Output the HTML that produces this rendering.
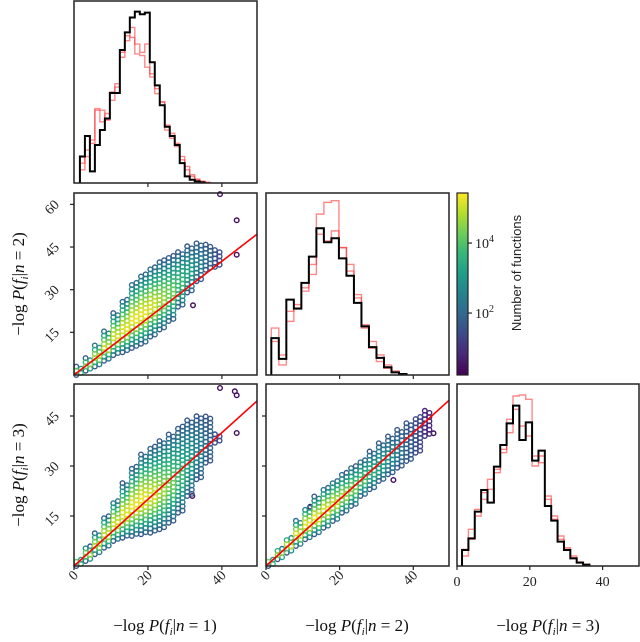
<!DOCTYPE html>
<html><head><meta charset="utf-8"><style>
html,body{margin:0;padding:0;background:#fff;}
svg{display:block;}
.tk{font-family:"Liberation Serif",serif;font-size:14px;fill:#222;}
.ttl{font-family:"Liberation Serif",serif;font-size:17px;fill:#111;}
</style></head><body>
<svg id="chart" width="640" height="642" viewBox="0 0 640 642" xmlns="http://www.w3.org/2000/svg"></svg>
<script>
// ---------- DATA ----------
const h1Start = 1.6, h1Width = 1.35;
const h1Black = [80,142,35,115,160,195,272,272,402,455,500,518,510,515,365,295,235,170,142,115,60,20,10,5,2];
const h1RedA  = [60,100,130,225,220,190,250,290,380,430,470,420,395,420,330,285,245,175,150,110,80,40,20,10,5,2];
const h1RedB  = [40,80,120,220,185,210,275,300,395,445,440,390,385,350,320,270,245,160,135,120,70,50,25,12,5,2];
const h2Start = 1.44, h2Width = 2.04;
const h2Black = [110,48,225,198,275,353,438,396,408,348,296,215,145,83,51,23,8,3];
const h2RedA  = [140,60,190,210,260,330,480,515,520,380,330,240,150,100,60,30,12,4];
const h2RedB  = [100,30,160,200,250,300,420,400,430,380,310,230,140,80,40,20,8,3];
const h3Start = 1.38, h3Width = 1.75;
const h3Black = [48,83,163,228,190,298,363,428,481,378,431,316,346,180,136,73,48,23,10,4];
const h3RedA  = [30,110,150,200,230,280,340,440,510,513,500,300,330,200,150,90,55,30,12,5];
const h3RedB  = [50,80,170,220,260,290,350,400,470,420,390,330,310,210,140,80,50,25,10,4];
const s12X    = [1.25,3.75,6.25,8.75,11.25,13.75,16.25,18.75,21.25,23.75,26.25,28.75,31.25,33.75,36.25,38.75];
const s12Lo   = [0,1.5,3,5,7,8,9.5,11,13.5,16,19,24,29,33,37,38];
const s12Hi   = [3,6,11,16,22,27,33,36,38.5,40.5,42,43.5,45.5,47,46,44];
const s12Peak = [4.3,4.6,4.8,5,5.1,5.2,5.3,5.3,5.1,4.7,4.3,3.8,3.2,2.6,2,1.5];
const s12OutX = [39.5,44,44,32.2];
const s12OutY = [63.6,54.4,42.3,24.5];
const s13X    = [1.25,3.75,6.25,8.75,11.25,13.75,16.25,18.75,21.25,23.75,26.25,28.75,31.25,33.75,36.25,38.75];
const s13Lo   = [0,1.5,3.5,5.5,7.5,8.5,9,9.5,10,11,13,16,21,26,31,37];
const s13Hi   = [2.5,6,10,15,20,25,30,34,36,38,40,42,44,45.5,45,40];
const s13Peak = [4.3,4.6,4.8,5,5.1,5.2,5.3,5.3,5.1,4.7,4.3,3.8,3.2,2.6,2,1.5];
const s13OutX = [39.5,43.5,44,44,32];
const s13OutY = [53.4,52.4,51.2,39.9,21];
const s23X    = [1.25,3.75,6.25,8.75,11.25,13.75,16.25,18.75,21.25,23.75,26.25,28.75,31.25,33.75,36.25,38.75,41.25,43.75];
const s23Lo   = [0,2,4,6,8,9.5,11.5,13.5,16,18,21,23,25.5,27.5,29.5,31.5,34,39];
const s23Hi   = [2.5,5.5,9,14,18,21,24,26,28,30,32,34.5,37,39,41,43,45,47];
const s23Peak = [4.5,4.8,5,5.2,5.3,5.3,5.2,5,4.7,4.4,4,3.6,3.2,2.8,2.3,1.8,1.4,0.8];
const s23OutX = [12,34.6,45.5];
const s23OutY = [17.8,25.8,39.8];
const xTickVals = [0,20,40];
const yTickVals12 = [15,30,45,60];
const yTickVals3 = [15,30,45];
const cbTickVals = [2,4];
const cbMin = 0.23, cbMax = 5.43;

// ---------- HELPERS ----------
const NS = "http://www.w3.org/2000/svg";
const svg = document.getElementById('chart');
function mk(tag, attrs, parent){ const e=document.createElementNS(NS,tag); for(const k in attrs) e.setAttribute(k,attrs[k]); (parent||svg).appendChild(e); return e; }
const vStops=[[68,1,84],[72,40,120],[62,73,137],[49,104,142],[38,130,142],[31,158,137],[53,183,121],[109,205,89],[180,222,44],[253,231,37]];
function viridis(t){ t=Math.max(0,Math.min(1,t)); const p=t*(vStops.length-1); const i=Math.min(vStops.length-2,Math.floor(p)); const f=p-i; const a=vStops[i],b=vStops[i+1]; return `rgb(${Math.round(a[0]+(b[0]-a[0])*f)},${Math.round(a[1]+(b[1]-a[1])*f)},${Math.round(a[2]+(b[2]-a[2])*f)})`; }
function axis(x0,x1,y0,y1,dx1,dy1){ return {x0,x1,y0,y1,sx:v=>x0+(v/dx1)*(x1-x0),sy:v=>y1-(v/dy1)*(y1-y0)}; }

const aTL=axis(74,257,1,183,49.5,550);
const aML=axis(74,257,193,375,49.5,64);
const aMM=axis(266,449,193,375,49.7,543);
const aBL=axis(74,257,384,566,49.5,54.6);
const aBM=axis(266,449,384,566,49.7,54.6);
const aBR=axis(457,639,384,566,50,546);

function hist(name, a, start, width, counts, color, sw){
  let d=`M${a.sx(start)},${a.y1}`;
  counts.forEach((c,i)=>{ const xa=a.sx(start+i*width), xb=a.sx(start+(i+1)*width), y=a.sy(c); d+=` L${xa},${y} L${xb},${y}`; });
  d+=` L${a.sx(start+counts.length*width)},${a.y1}`;
  const p=mk('path',{d,fill:'none',stroke:color,'stroke-width':sw,'stroke-linejoin':'miter'});
  
  
}
function scatter(name, a, xs, lo, hi, peak, ox, oy){
  const g=mk('g',{});
  
  
  const cells=[];
  const unitY=(a.y1-a.sy(1)); const dy=4.2/unitY;
  xs.forEach((x,i)=>{
    const c=lo[i]+0.42*(hi[i]-lo[i]);
    for(let s=0;s<2;s++){
      const cx=x+(s?0.625:-0.625);
      for(let y=lo[i]+(s?dy/2:0); y<=hi[i]+1e-6; y+=dy){
        const half = y<c ? Math.max(0.5,c-lo[i]) : Math.max(0.5,hi[i]-c);
        const d=Math.min(1,Math.abs(y-c)/half);
        const edge=Math.min(1.6,peak[i]);
        const lg=edge+(peak[i]-edge)*(1-Math.pow(d,1.4));
        cells.push([cx,y,lg]);
      }
    }
  });
  ox.forEach((x,i)=>cells.push([x,oy[i],0.4]));
  cells.sort((p,q)=>p[2]-q[2]);
  cells.forEach(p=>{
    const e=mk('circle',{cx:a.sx(p[0]).toFixed(1),cy:a.sy(p[1]).toFixed(1),r:2.3,fill:'none',stroke:viridis((p[2]-cbMin)/(cbMax-cbMin)),'stroke-width':1.4},g);
    
    
  });
  const l=mk('line',{x1:a.sx(0),y1:a.sy(0),x2:a.x1,y2:a.sy(49.5*(a.x1-a.x0)/(a.sx(49.5)-a.x0)),stroke:'#f00','stroke-width':1.6});
  
  
}
function frame(name,a){
  const r=mk('rect',{x:a.x0,y:a.y0,width:a.x1-a.x0,height:a.y1-a.y0,fill:'none',stroke:'#222','stroke-width':1.5});
  
  
}
function xticks(a, labels){
  xTickVals.forEach(v=>{ const x=a.sx(v); if(v>0||labels) mk('line',{x1:x,y1:a.y1,x2:x,y2:a.y1+4,stroke:'#222','stroke-width':1.2});
    if(labels==='rot'){ const t=mk('text',{class:'tk','text-anchor':'end',transform:`translate(${x+5},${a.y1+10}) rotate(-45)`}); t.textContent=v;   }
    if(labels==='flat'){ const t=mk('text',{class:'tk','text-anchor':'middle',x:x,y:a.y1+20}); t.textContent=v;   }
  });
}
function yticks(a, vals, labels){
  vals.forEach(v=>{ const y=a.sy(v); mk('line',{x1:a.x0-4,y1:y,x2:a.x0,y2:y,stroke:'#222','stroke-width':1.2});
    if(labels){ const t=mk('text',{class:'tk','text-anchor':'end',transform:`translate(${a.x0-14},${y+1}) rotate(-45)`}); t.textContent=v;   }
  });
}

// ---------- DRAW ----------
hist('hist-n1-red-a',aTL,h1Start,h1Width,h1RedA,'rgba(255,40,40,0.55)',1.4);
hist('hist-n1-red-b',aTL,h1Start,h1Width,h1RedB,'rgba(255,40,40,0.55)',1.4);
hist('hist-n1-black',aTL,h1Start,h1Width,h1Black,'#000',2);
hist('hist-n2-red-a',aMM,h2Start,h2Width,h2RedA,'rgba(255,40,40,0.55)',1.4);
hist('hist-n2-red-b',aMM,h2Start,h2Width,h2RedB,'rgba(255,40,40,0.55)',1.4);
hist('hist-n2-black',aMM,h2Start,h2Width,h2Black,'#000',2);
hist('hist-n3-red-a',aBR,h3Start,h3Width,h3RedA,'rgba(255,40,40,0.55)',1.4);
hist('hist-n3-red-b',aBR,h3Start,h3Width,h3RedB,'rgba(255,40,40,0.55)',1.4);
hist('hist-n3-black',aBR,h3Start,h3Width,h3Black,'#000',2);
scatter('scatter-n1-n2',aML,s12X,s12Lo,s12Hi,s12Peak,s12OutX,s12OutY);
scatter('scatter-n1-n3',aBL,s13X,s13Lo,s13Hi,s13Peak,s13OutX,s13OutY);
scatter('scatter-n2-n3',aBM,s23X,s23Lo,s23Hi,s23Peak,s23OutX,s23OutY);
frame('panel-hist-n1',aTL); xticks(aTL,null);
frame('panel-scatter-n1-n2',aML); xticks(aML,null); yticks(aML,yTickVals12,true);
frame('panel-hist-n2',aMM); xticks(aMM,null);
frame('panel-scatter-n1-n3',aBL); xticks(aBL,'rot'); yticks(aBL,yTickVals3,true);
frame('panel-scatter-n2-n3',aBM); xticks(aBM,'rot'); yticks(aBM,yTickVals3,false);
frame('panel-hist-n3',aBR); xticks(aBR,'flat');

const defs=mk('defs',{});
const grad=mk('linearGradient',{id:'vir',x1:0,y1:1,x2:0,y2:0},defs);
vStops.forEach((s,i)=>mk('stop',{offset:(i/(vStops.length-1)),'stop-color':`rgb(${s[0]},${s[1]},${s[2]})`},grad));
const cb=mk('rect',{x:457,y:193,width:11,height:182,fill:'url(#vir)',stroke:'#222','stroke-width':1.2});


cbTickVals.forEach(v=>{ const y=375-(v-cbMin)/(cbMax-cbMin)*182; mk('line',{x1:468,y1:y,x2:472,y2:y,stroke:'#222','stroke-width':1.2});
  const t=mk('text',{class:'tk',x:475,y:y+5}); t.innerHTML=`10<tspan dy="-6" font-size="10">${v}</tspan>`;
    });
const cbl=mk('text',{'font-family':'Liberation Sans, sans-serif','font-size':13,fill:'#222','text-anchor':'middle',transform:'translate(521,273) rotate(-90)'});
cbl.textContent='Number of functions';



function mathTitle(name,n,x,y,rot){
  const t=mk('text',{class:'ttl','text-anchor':'middle',transform:`translate(${x},${y})${rot?' rotate(-90)':''}`});
  t.innerHTML=`−log <tspan font-style="italic">P</tspan>(<tspan font-style="italic">f</tspan><tspan font-size="11" dy="4" font-style="italic">i</tspan><tspan dy="-4">|</tspan><tspan font-style="italic">n</tspan> = ${n})`;
  
  
}
mathTitle('x-axis-title-n1',1,165,631,false);
mathTitle('x-axis-title-n2',2,357,631,false);
mathTitle('x-axis-title-n3',3,548,631,false);
mathTitle('y-axis-title-n2',2,24,284,true);
mathTitle('y-axis-title-n3',3,24,475,true);
</script>
</body></html>
